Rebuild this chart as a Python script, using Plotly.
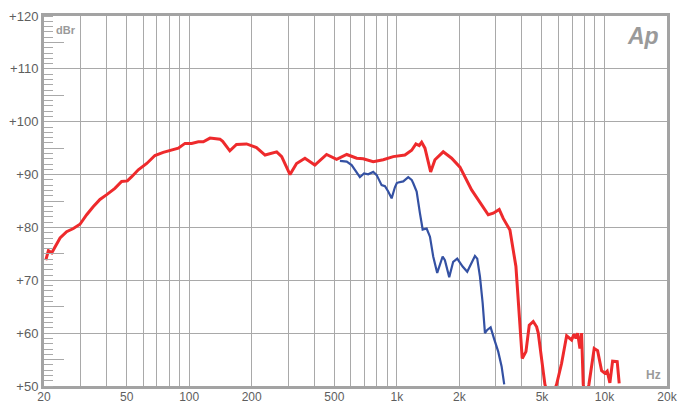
import plotly.graph_objects as go

# Red curve (Hz, dBr)
red_f = [20.4, 21.0, 21.8, 22.6, 23.9, 25.7, 27.7, 29.8, 32.1, 34.5, 37.2, 40.1, 43.9, 47.3, 50.4,
         52.9, 56.9, 62.5, 68.4, 75.0, 83.9, 88.7, 95.5, 102.8, 110.7, 117, 126, 140.7, 145, 157,
         169, 189, 211, 232, 264, 279, 306, 329, 361, 403, 459, 513, 574, 641, 689, 770, 860, 961,
         1094, 1179, 1236, 1282, 1317, 1366, 1417, 1455, 1526, 1673, 1836, 2014, 2292, 2561, 2756,
         2914, 3112, 3254, 3505, 3746, 3886, 4017, 4186, 4342, 4538, 4712, 4798, 5166, 5462, 5882,
         6216, 6572, 6946, 7126, 7286, 7424, 7616, 7760, 7900, 8140, 8414, 8922, 9266, 9686, 10046,
         10304, 10618, 10940, 11514, 11772]
red_db = [73.8, 75.6, 75.2, 76.4, 78.0, 79.2, 79.8, 80.6, 82.4, 83.9, 85.3, 86.2, 87.4, 88.7, 88.8,
          89.6, 90.9, 92.1, 93.6, 94.2, 94.8, 95.0, 95.9, 95.9, 96.2, 96.2, 96.9, 96.7, 96.3, 94.5,
          95.7, 95.8, 95.1, 93.7, 94.3, 93.4, 90.0, 92.1, 93.1, 91.8, 93.8, 92.9, 93.8, 93.1, 93.0,
          92.45, 92.8, 93.4, 93.7, 94.6, 95.8, 95.5, 96.1, 95.0, 92.4, 90.5, 92.8, 94.3, 93.1, 91.4,
          87.1, 84.2, 82.4, 82.7, 83.4, 81.7, 79.5, 72.6, 63.1, 55.2, 56.5, 61.5, 62.2, 61.2, 60.0,
          50.3, 47.0, 50.3, 54.3, 59.5, 58.7, 59.8, 59.0, 60.0, 57.1, 60.0, 50.3, 47.0, 50.3, 57.1,
          56.7, 52.9, 52.4, 52.8, 50.6, 54.7, 54.6, 50.5]

# Blue curve (Hz, dBr)
blue_f = [532, 574, 606, 641, 664, 695, 728, 770, 800, 845, 877, 909, 944, 979, 1000, 1016, 1074,
          1135, 1179, 1200, 1246, 1292, 1332, 1392, 1444, 1497, 1565, 1662, 1704, 1788, 1868, 1954,
          2075, 2183, 2267, 2378, 2439, 2514, 2590, 2657, 2724, 2830, 2936, 3078, 3196, 3290]
blue_db = [92.6, 92.45, 91.8, 90.5, 89.5, 90.2, 90.05, 90.5, 89.9, 88.0, 87.8, 86.8, 85.5, 87.6, 88.4,
           88.5, 88.7, 89.5, 89.0, 88.35, 86.8, 82.7, 79.6, 79.8, 78.25, 74.5, 71.4, 74.5, 73.8, 70.6,
           73.5, 74.1, 72.6, 71.6, 72.9, 74.6, 74.1, 70.7, 65.7, 60.0, 60.6, 61.1, 59.0, 56.5, 53.7, 50.3]

# Axis ticks
x_grid = [20, 30, 40, 50, 60, 70, 80, 90, 100, 200, 300, 400, 500, 600, 700, 800, 900,
          1000, 2000, 3000, 4000, 5000, 6000, 7000, 8000, 9000, 10000, 20000]
x_labels = {20: "20", 50: "50", 100: "100", 200: "200", 500: "500", 1000: "1k", 2000: "2k",
            5000: "5k", 10000: "10k", 20000: "20k"}
y_ticks = [50, 60, 70, 80, 90, 100, 110, 120]
y_half = [55, 65, 75, 85, 95, 105, 115]

GRID = "#a9a9a9"
FRAME = "#a3a3a3"
TXT = "#5e5e5e"

fig = go.Figure()
fig.add_trace(go.Scatter(x=blue_f, y=blue_db, mode="lines",
                         line=dict(color="#3451a3", width=2.2), hoverinfo="skip", showlegend=False))
fig.add_trace(go.Scatter(x=red_f, y=red_db, mode="lines",
                         line=dict(color="#ee2a2c", width=3), hoverinfo="skip", showlegend=False))
# invisible trace to anchor the secondary tick axis
fig.add_trace(go.Scatter(x=[100], y=[50], yaxis="y2", mode="markers",
                         marker=dict(opacity=0), hoverinfo="skip", showlegend=False))

fig.update_layout(
    width=678, height=405,
    margin=dict(l=44, r=11, t=16, b=19),
    paper_bgcolor="white", plot_bgcolor="white",
    font=dict(family="Liberation Sans, Arial, sans-serif", size=13, color=TXT),
    xaxis=dict(type="log", range=[1.30103, 4.30103], automargin=False,
               tickvals=x_grid, ticktext=[x_labels.get(v, "") for v in x_grid],
               showgrid=True, gridcolor=GRID, gridwidth=1.3,
               showline=True, linecolor=FRAME, linewidth=3, mirror=True,
               ticks="", tickfont=dict(size=12, color=TXT), zeroline=False,
               ticklabelstandoff=-2),
    yaxis=dict(range=[50, 120], tickvals=y_ticks, ticktext=["+%d" % v for v in y_ticks],
               automargin=False,
               showgrid=True, gridcolor=GRID, gridwidth=1.3,
               showline=True, linecolor=FRAME, linewidth=3, mirror=True,
               ticks="", tickfont=dict(size=13, color=TXT), zeroline=False,
               ticklabelstandoff=0,
               minor=dict(ticks="inside", dtick=1, ticklen=9, tickwidth=1, tickcolor=GRID,
                          showgrid=False)),
    yaxis2=dict(range=[50, 120], overlaying="y", side="left", anchor="x", automargin=False,
                tickvals=y_half, ticks="inside", ticklen=20, tickwidth=1, tickcolor=GRID,
                showticklabels=False, showgrid=False, zeroline=False, showline=False),
    annotations=[
        dict(text="<b>dBr</b>", xref="paper", yref="paper", x=0.035, y=0.962,
             xanchor="center", yanchor="middle",
             showarrow=False, font=dict(size=11, color="#9a9a9a")),
        dict(text="<b>Hz</b>", xref="paper", yref="paper", x=0.979, y=0.030,
             xanchor="center", yanchor="middle",
             showarrow=False, font=dict(size=12, color="#9a9a9a")),
        dict(text="<b><i>Ap</i></b>", xref="paper", yref="paper", x=0.962, y=0.946,
             xanchor="center", yanchor="middle",
             showarrow=False, font=dict(size=23, color="#9a9a9a")),
    ],
)

fig.write_html("out.html", config={"displayModeBar": False},
               post_script="document.body.style.margin='0';document.body.style.padding='0';")
